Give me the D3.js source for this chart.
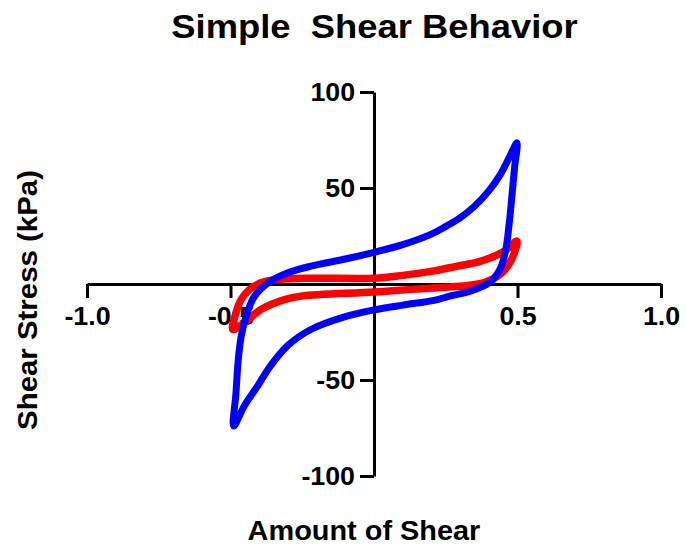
<!DOCTYPE html>
<html>
<head>
<meta charset="utf-8">
<script src="https://cdn.jsdelivr.net/npm/d3@7"></script>
<style>
  html, body { margin: 0; padding: 0; background: #fff; }
  svg { display: block; }
  text { font-family: "Liberation Sans", Arial, Helvetica, sans-serif; font-weight: bold; fill: #000; }
</style>
</head>
<body>
<svg id="chart" width="686" height="551"></svg>
<script>
// Axis ticks
const xTicks = [-1.0, -0.5, 0.5, 1.0];
const yTicks = [-100, -50, 50, 100];

// Hysteresis loops: [amount of shear, shear stress (kPa)]
const blueLoop = [
  [0.498, 73.5], [0.489, 59.6], [0.480, 45.0], [0.470, 30.0], [0.458, 17.0],
  [0.440, 8.0], [0.405, 1.0], [0.340, -3.5], [0.260, -6.5], [0.210, -8.5],
  [0.100, -11.0], [0.000, -13.5], [-0.100, -17.0], [-0.220, -23.7], [-0.300, -32.0],
  [-0.360, -42.5], [-0.405, -53.0], [-0.452, -63.5], [-0.489, -74.0], [-0.481, -57.0],
  [-0.473, -39.5], [-0.463, -27.5], [-0.446, -17.0], [-0.417, -6.5], [-0.370, 0.5],
  [-0.300, 5.8], [-0.220, 9.3], [-0.100, 13.0], [0.000, 16.5], [0.100, 20.5],
  [0.200, 26.0], [0.250, 30.0], [0.300, 34.5], [0.350, 40.5], [0.400, 48.5],
  [0.440, 57.0], [0.470, 65.5]
];
const redLoop = [
  [0.498, 22.3], [0.489, 16.2], [0.466, 9.3], [0.431, 4.1], [0.384, 0.8],
  [0.315, -1.0], [0.268, -1.5], [0.130, -2.8], [0.000, -4.2], [-0.254, -6.3],
  [-0.312, -8.1], [-0.394, -13.3], [-0.452, -20.2], [-0.492, -23.7], [-0.481, -15.0],
  [-0.463, -8.1], [-0.434, -2.9], [-0.394, 0.6], [-0.336, 2.3], [-0.220, 3.0],
  [0.000, 3.0], [0.100, 4.5], [0.199, 6.6], [0.291, 9.3], [0.373, 11.9],
  [0.454, 17.1]
];

const svg = d3.select("#chart");

const x = d3.scaleLinear().domain([-1, 1]).range([87, 661]);
const y = d3.scaleLinear().domain([-100, 100]).range([476, 92]);

// plain hyphen for negative numbers
const fmtX = d => d3.format(".1f")(d).replace("\u2212", "-");
const fmtY = d => d3.format("d")(d).replace("\u2212", "-");

// stretch a text element horizontally by factor k
function widen(sel, k) {
  sel.each(function () {
    const len = this.getComputedTextLength();
    d3.select(this).attr("textLength", len * k).attr("lengthAdjust", "spacingAndGlyphs");
  });
}

// x axis through the origin
const gx = svg.append("g")
  .attr("transform", `translate(0,${y(0)})`)
  .call(d3.axisBottom(x).tickValues(xTicks).tickFormat(fmtX)
    .tickSize(14).tickSizeOuter(0).tickPadding(9));

// y axis through the origin
const gy = svg.append("g")
  .attr("transform", `translate(${x(0)},0)`)
  .call(d3.axisLeft(y).tickValues(yTicks).tickFormat(fmtY)
    .tickSize(14).tickSizeOuter(0).tickPadding(5));

[gx, gy].forEach(g => {
  g.select(".domain").attr("stroke", "#000").attr("stroke-width", 3);
  g.selectAll(".tick line").attr("stroke", "#000").attr("stroke-width", 3);
  g.selectAll(".tick text")
    .attr("font-family", "Liberation Sans, Arial, sans-serif")
    .attr("font-weight", "bold")
    .attr("font-size", 25)
    .attr("fill", "#000");
});
gx.selectAll(".tick text").call(widen, 1.07);
gy.selectAll(".tick text").call(widen, 1.07);

// loops
const line = d3.line()
  .x(d => x(d[0]))
  .y(d => y(d[1]))
  .curve(d3.curveCatmullRomClosed.alpha(0.5));

svg.append("path")
  .datum(redLoop)
  .attr("d", line)
  .attr("fill", "none")
  .attr("stroke", "#ff0000")
  .attr("stroke-width", 7.5)
  .attr("stroke-linejoin", "round");

svg.append("path")
  .datum(blueLoop)
  .attr("d", line)
  .attr("fill", "none")
  .attr("stroke", "#0000ff")
  .attr("stroke-width", 7)
  .attr("stroke-linejoin", "round");

// titles
svg.append("text")
  .attr("x", 374.5).attr("y", 37.5)
  .attr("text-anchor", "middle")
  .attr("font-size", 34)
  .attr("xml:space", "preserve")
  .style("white-space", "pre")
  .text("Simple  Shear Behavior")
  .call(widen, 1.07);

svg.append("text")
  .attr("x", 364).attr("y", 540)
  .attr("text-anchor", "middle")
  .attr("font-size", 27)
  .text("Amount of Shear")
  .call(widen, 1.07);

svg.append("text")
  .attr("transform", "translate(36.5,300) rotate(-90)")
  .attr("text-anchor", "middle")
  .attr("font-size", 28)
  .text("Shear Stress (kPa)")
  .call(widen, 1.05);
</script>
</body>
</html>
